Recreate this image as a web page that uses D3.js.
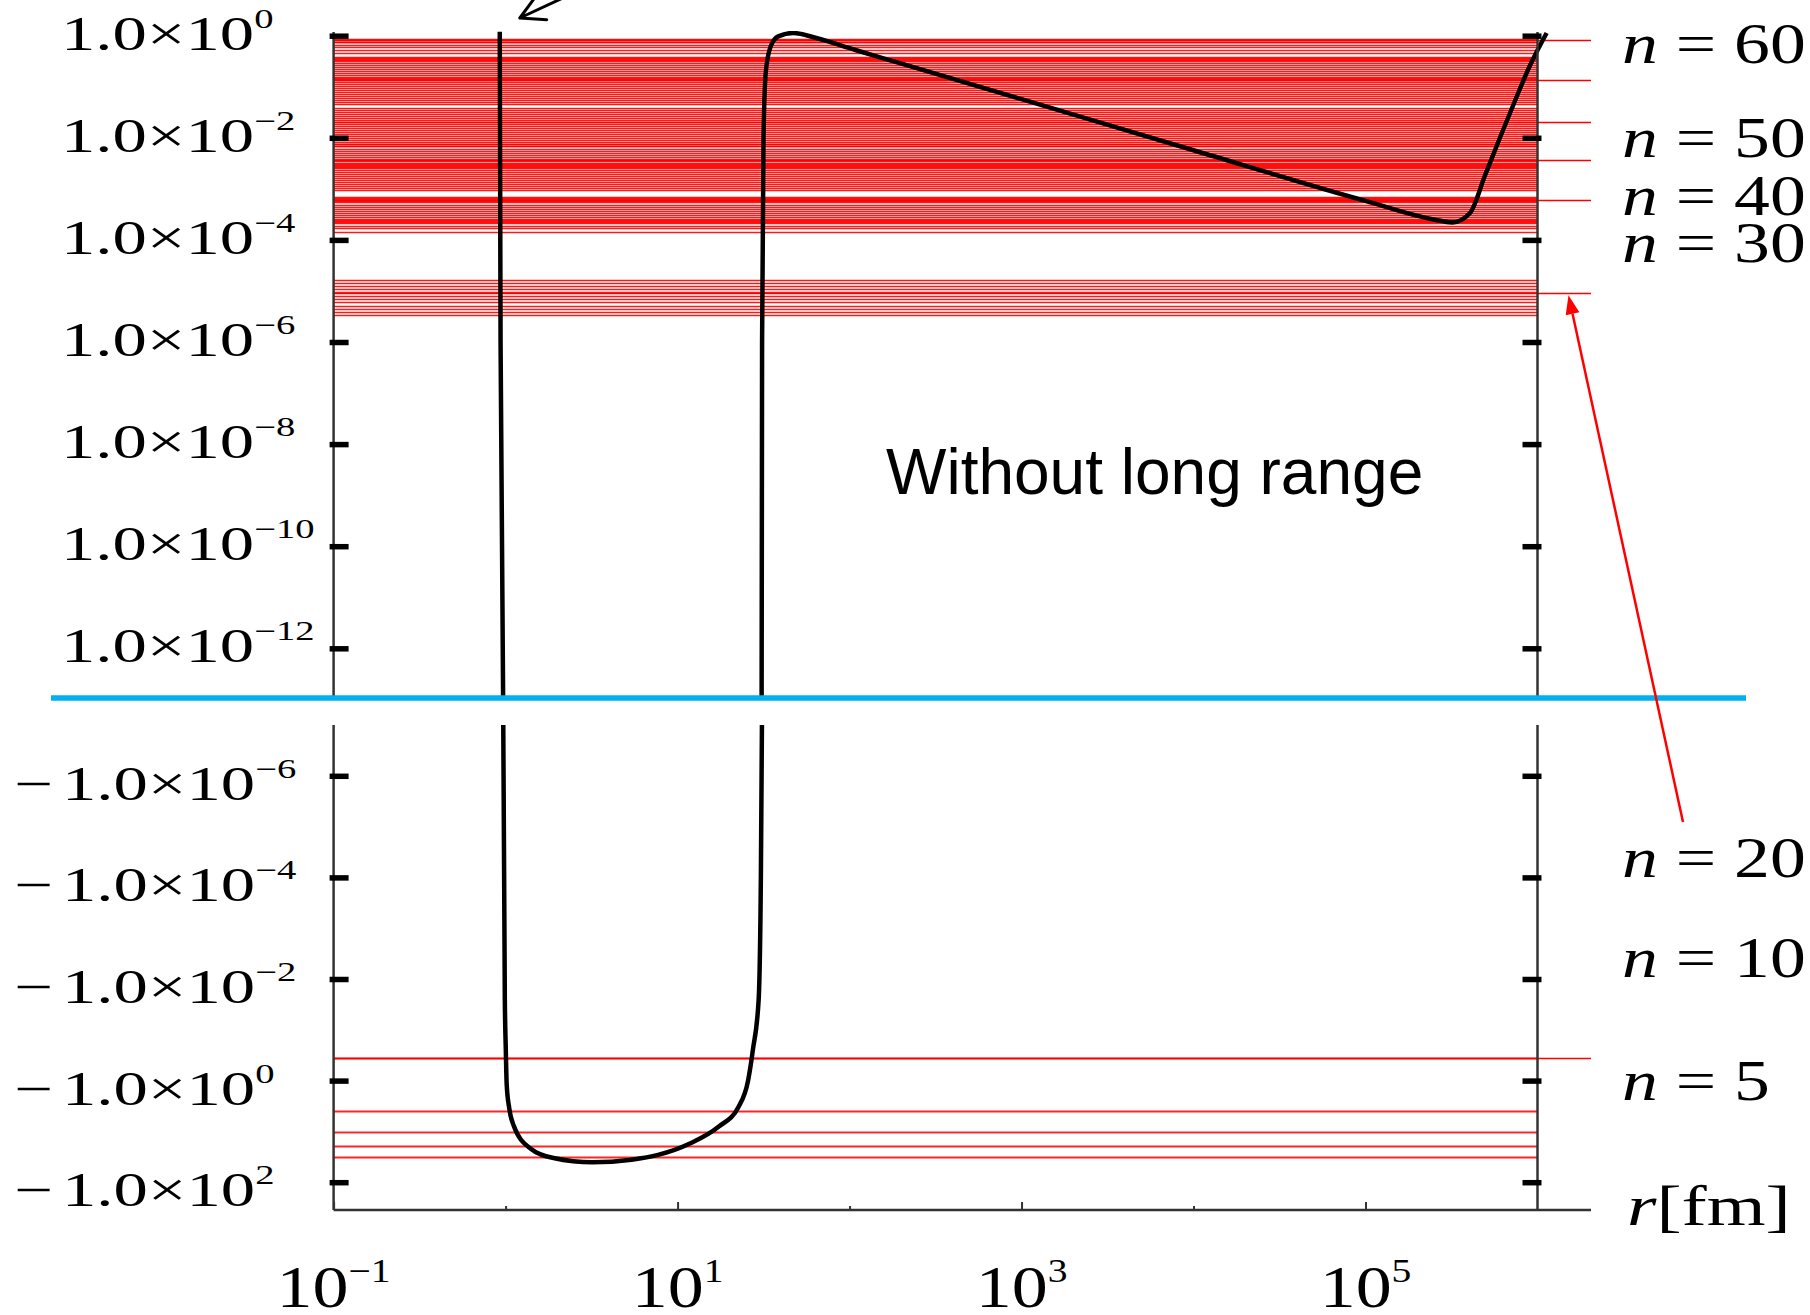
<!DOCTYPE html>
<html>
<head>
<meta charset="utf-8">
<script src="https://cdn.jsdelivr.net/npm/d3@7"></script>
<style>
  html, body { margin: 0; padding: 0; background: #fff; }
  svg { display: block; }
</style>
</head>
<body>
<svg width="1810" height="1315"></svg>
<script>
// bound levels above zero, log10(E / MeV)
const upperLevelLog = [
  -0.074, -0.094, -0.114, -0.133, -0.182, -0.221, -0.280, -0.339, -0.417, -0.437,
  -0.456, -0.476, -0.496, -0.525, -0.574, -0.613, -0.652, -0.691, -0.731, -0.770,
  -0.809, -0.829, -0.848, -0.868, -0.907, -0.946, -0.985, -1.025, -1.064, -1.103,
  -1.142, -1.181, -1.220, -1.260, -1.299, -1.338, -1.416, -1.455, -1.495, -1.534,
  -1.573, -1.612, -1.651, -1.691, -1.730, -1.769, -1.808, -1.847, -1.886, -1.926,
  -1.965, -2.004, -2.043, -2.082, -2.112, -2.131, -2.151, -2.170, -2.219, -2.259,
  -2.298, -2.337, -2.376, -2.415, -2.454, -2.494, -2.513, -2.533, -2.552, -2.572,
  -2.592, -2.621, -2.670, -2.709, -2.748, -2.788, -2.827, -2.866, -2.905, -2.944,
  -2.983, -3.023, -3.160, -3.179, -3.199, -3.218, -3.238, -3.267, -3.316, -3.356,
  -3.395, -3.434, -3.473, -3.512, -3.551, -3.591, -3.610, -3.630, -3.649, -3.669,
  -3.728, -3.767, -3.839,
  -4.795, -4.844, -4.903, -4.962, -5.021, -5.099, -5.158, -5.226, -5.295, -5.354,
  -5.412, -5.471
];
// deep levels below zero (MeV)
const lowerLevels = [-0.36, -4.0, -10.5, -19.3, -31.7];
// levels with a label, drawn out past the frame (MeV)
const markedLevels = [0.824, 0.1355, 0.0201, 3.67e-3, 6.05e-4, 9.0e-6, -0.36];
const arrowLevel = 9.0e-6; // n = 20

// potential, r [fm] and V [MeV]
const curveR = [
  0.925, 0.935, 0.97,
  0.968, 0.99, 1.003, 1.015, 1.05, 1.115, 1.4, 1.9, 3.2, 5.4, 7.7, 11.8, 17.3, 22.6, 25.7, 27.4, 29.6, 30.5, 31.0,
  30.8, 31.0, 31.6, 32.6, 34.8, 38.5, 47, 64, 107, 196, 1e3, 1e4, 1e5, 2.5e5, 3.2e5, 4.05e5, 4.94e5, 6.04e5, 7.39e5, 9.04e5, 1.13e6
];
const curveV = [
  1.2, 1e-6, 3.2e-14,
  -4.0e-8, -0.026, -0.25, -1.2, -3.5, -7.7, -21.9, -33.4, -40.5, -36, -29, -17.3, -8.1, -3.3, -1.0, -0.25, -0.026, -1e-4, -4.0e-8,
  3.2e-14, 1e-6, 1e-2, 0.2, 0.62, 0.97, 1.13, 0.9, 0.53, 0.29, 0.057, 5.7e-3, 5.8e-4, 2.5e-4, 2.2e-4, 3.37e-4, 1.79e-3, 9.9e-3, 0.0526, 0.261, 1.13
];

// axis ticks and labels
const xTicksMajor = [0.1, 10, 1e3, 1e5];
const xTicksMinor = [1, 100, 1e4];
const xTickExp = ["\u22121", "1", "3", "5"];
const yTicksUpper = [1, 1e-2, 1e-4, 1e-6, 1e-8, 1e-10, 1e-12];
const yUpperExp = ["0", "\u22122", "\u22124", "\u22126", "\u22128", "\u221210", "\u221212"];
const yTicksLower = [1e-6, 1e-4, 1e-2, 1, 1e2];
const yLowerExp = ["\u22126", "\u22124", "\u22122", "0", "2"];
const levelLabels = ["60", "50", "40", "30", "20", "10", "5"];

// layout
const serif = "'Liberation Serif', 'Times New Roman', serif";
const upperTop = 32, upperBottom = 698, lowerTop = 725, lowerBottom = 1210;
const labelBaselines = [63, 157, 215, 262, 877, 977, 1100];

const svg = d3.select("svg");

const x = d3.scaleLog().domain([0.1, 1e6]).range([333.6, 1537.5]);
const yPos = d3.scaleLog().domain([1, 1e-12]).range([35.7, 648.3]);
const yNeg = d3.scaleLog().domain([1e-6, 1e2]).range([775.8, 1182.2]);
const yOf = (v) => (v > 0 ? yPos(v) : yNeg(-v));
const x0 = x(0.1), x1 = x(1e6);
// snap thin level lines to the pixel grid so they stay separate
const snap = (y) => Math.round(y) + 0.5;

// clip areas for the two panels
const defs = svg.append("defs");
defs.append("clipPath").attr("id", "clip-up").append("rect")
  .attr("x", 0).attr("y", upperTop - 1).attr("width", 1810).attr("height", upperBottom - upperTop + 1);
defs.append("clipPath").attr("id", "clip-down").append("rect")
  .attr("x", 0).attr("y", lowerTop).attr("width", 1810).attr("height", lowerBottom - lowerTop);

// red level lines
svg.append("g")
  .selectAll("line")
  .data(upperLevelLog)
  .join("line")
  .attr("x1", x0).attr("x2", x1)
  .attr("y1", (d) => snap(yPos(10 ** d))).attr("y2", (d) => snap(yPos(10 ** d)))
  .attr("stroke", "#ff0000").attr("stroke-width", 1.4).attr("opacity", 0.9);

svg.append("g")
  .selectAll("line")
  .data(lowerLevels)
  .join("line")
  .attr("x1", x0).attr("x2", x1)
  .attr("y1", (d) => snap(yOf(d))).attr("y2", (d) => snap(yOf(d)))
  .attr("stroke", "#ff0000").attr("stroke-width", 1.8).attr("opacity", 0.85);

svg.append("g")
  .selectAll("line")
  .data(markedLevels)
  .join("line")
  .attr("x1", x0).attr("x2", 1591)
  .attr("y1", (d) => snap(yOf(d))).attr("y2", (d) => snap(yOf(d)))
  .attr("stroke", "#ff0000").attr("stroke-width", 1.5);

// potential curve, split in the positive and negative parts
const pts = curveR.map((r, i) => ({ r, v: curveV[i] }));
const line = d3.line().x((d) => x(d.r)).y((d) => yOf(d.v)).curve(d3.curveMonotoneX);
const parts = [pts.slice(0, 3), pts.slice(3, 22), pts.slice(22)];
parts.forEach((p, i) => {
  svg.append("path")
    .datum(p)
    .attr("clip-path", i === 1 ? "url(#clip-down)" : "url(#clip-up)")
    .attr("fill", "none")
    .attr("stroke", "#000")
    .attr("stroke-width", 4.5)
    .attr("stroke-linejoin", "round")
    .attr("d", line);
});

// frame lines
const frame = svg.append("g").attr("stroke", "#333").attr("stroke-width", 2.5);
[x0, x1].forEach((xx) => {
  frame.append("line").attr("x1", xx).attr("x2", xx).attr("y1", upperTop).attr("y2", upperBottom);
  frame.append("line").attr("x1", xx).attr("x2", xx).attr("y1", lowerTop).attr("y2", lowerBottom);
});
frame.append("line").attr("x1", x0).attr("x2", 1591).attr("y1", lowerBottom).attr("y2", lowerBottom);

// thick y ticks on both frame sides
const styleTicks = (g, inner) => {
  g.select(".domain").remove();
  g.selectAll(".tick line").attr("x1", inner).attr("stroke", "#000").attr("stroke-width", 5.5);
};
[[yPos, yTicksUpper], [yNeg, yTicksLower]].forEach(([sc, vals]) => {
  svg.append("g")
    .attr("transform", `translate(${x0},0)`)
    .call(d3.axisRight(sc).tickValues(vals).tickSize(15).tickFormat(""))
    .call((g) => styleTicks(g, -4));
  svg.append("g")
    .attr("transform", `translate(${x1},0)`)
    .call(d3.axisLeft(sc).tickValues(vals).tickSize(15).tickFormat(""))
    .call((g) => styleTicks(g, 4));
});

// x ticks, pointing up
[[xTicksMajor, 8], [xTicksMinor, 4]].forEach(([vals, size]) => {
  svg.append("g")
    .attr("transform", `translate(0,${lowerBottom})`)
    .call(d3.axisTop(x).tickValues(vals).tickSize(size).tickFormat(""))
    .call((g) => g.select(".domain").remove())
    .call((g) => g.selectAll(".tick line").attr("stroke", "#333").attr("stroke-width", 2));
});

// blue zero separator
svg.append("line")
  .attr("x1", 51).attr("x2", 1746)
  .attr("y1", upperBottom).attr("y2", upperBottom)
  .attr("stroke", "#00b0f0").attr("stroke-width", 5.5);

// power-of-ten label: base text plus raised exponent, stretched sideways
const powLabel = (px, py, base, sup, size, supSize, raise, sx, anchor) => {
  const t = svg.append("text")
    .attr("transform", `translate(${px},${py}) scale(${sx},1)`)
    .attr("font-family", serif)
    .attr("font-size", size)
    .attr("text-anchor", anchor)
    .attr("fill", "#000");
  t.append("tspan").text(base);
  t.append("tspan").attr("font-size", supSize).attr("dy", -raise).text(sup);
};

yTicksUpper.forEach((v, i) => powLabel(61, yPos(v) + 14, "1.0\u00d710", yUpperExp[i], 48, 27, 22, 1.43, "start"));
yTicksLower.forEach((v, i) => {
  powLabel(62, yNeg(v) + 24, "1.0\u00d710", yLowerExp[i], 48, 27, 22, 1.43, "start");
  svg.append("text")
    .attr("transform", `translate(14,${yNeg(v) + 24}) scale(1.43,1)`)
    .attr("font-family", serif).attr("font-size", 48)
    .text("\u2212");
});
xTicksMajor.forEach((v, i) => powLabel(x(v), 1307, "10", xTickExp[i], 60, 33, 25, 1.2, "middle"));

// n = ... labels and axis title on the right
levelLabels.forEach((s, i) => {
  const t = svg.append("text")
    .attr("transform", `translate(1622,${labelBaselines[i]}) scale(1.28,1)`)
    .attr("font-family", serif).attr("font-size", 56);
  t.append("tspan").attr("font-style", "italic").text("n");
  t.append("tspan").text(" = " + s);
});
const rt = svg.append("text")
  .attr("transform", `translate(1627,1225) scale(1.35,1)`)
  .attr("font-family", serif).attr("font-size", 56);
rt.append("tspan").attr("font-style", "italic").text("r");
rt.append("tspan").text("[fm]");

// panel title
svg.append("text")
  .attr("x", 886).attr("y", 494)
  .attr("font-family", "'Liberation Sans', Arial, sans-serif")
  .attr("font-size", 64)
  .attr("fill", "#000")
  .text("Without long range");

// red arrow pointing at the n = 20 level
const tip = [x1 + 31, yPos(arrowLevel) + 2];
const tail = [1683, 822];
const ang = Math.atan2(tip[1] - tail[1], tip[0] - tail[0]);
const hl = 19, hw = 7;
const back = [tip[0] - hl * Math.cos(ang), tip[1] - hl * Math.sin(ang)];
svg.append("line")
  .attr("x1", tail[0]).attr("y1", tail[1]).attr("x2", back[0]).attr("y2", back[1])
  .attr("stroke", "#ff0000").attr("stroke-width", 2.5);
svg.append("path")
  .attr("fill", "#ff0000")
  .attr("d", d3.line()([
    tip,
    [back[0] + hw * Math.sin(ang), back[1] - hw * Math.cos(ang)],
    [back[0] - hw * Math.sin(ang), back[1] + hw * Math.cos(ang)]
  ]) + "Z");

// black arrow entering from the top edge (open head)
const btip = [x(1.21), 18];
const bang = Math.atan2(-27, 58);
const arm = 27;
svg.append("path")
  .attr("fill", "none").attr("stroke", "#000").attr("stroke-width", 3)
  .attr("stroke-linecap", "round").attr("stroke-linejoin", "round")
  .attr("d", d3.line()([[btip[0] + 60 * Math.cos(bang), btip[1] + 60 * Math.sin(bang)], btip]) +
    d3.line()([
      [btip[0] + arm * Math.cos(bang + 0.5), btip[1] + arm * Math.sin(bang + 0.5)],
      btip,
      [btip[0] + arm * Math.cos(bang - 0.5), btip[1] + arm * Math.sin(bang - 0.5)]
    ]));
</script>
</body>
</html>
